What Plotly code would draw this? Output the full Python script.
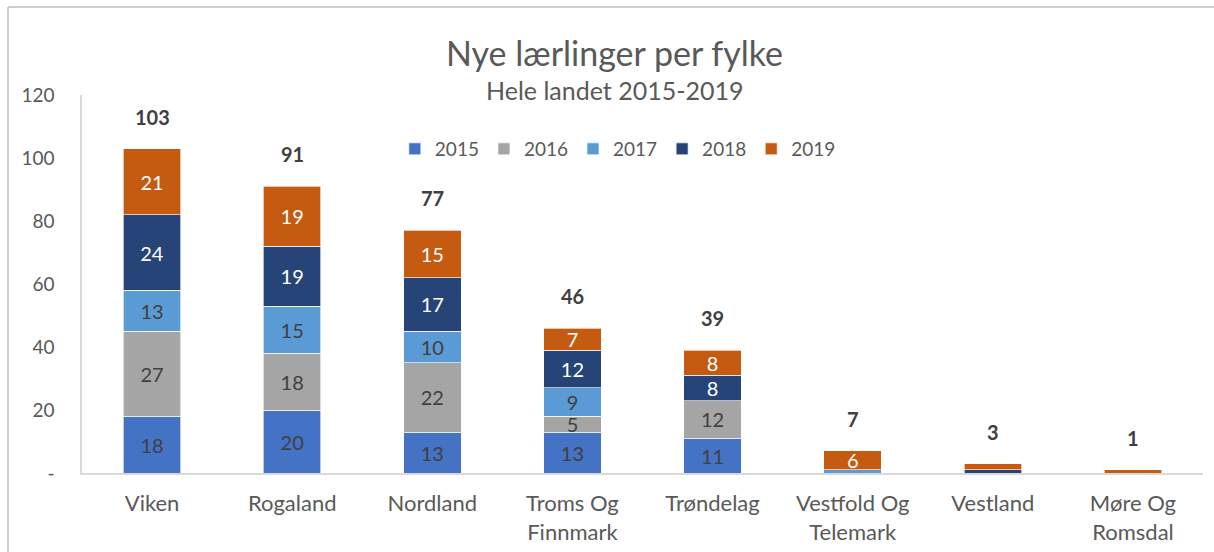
import plotly.graph_objects as go

categories = ["Viken", "Rogaland", "Nordland", "Troms Og<br>Finnmark", "Trøndelag",
              "Vestfold Og<br>Telemark", "Vestland", "Møre Og<br>Romsdal"]
years = ["2015", "2016", "2017", "2018", "2019"]
v2015 = [18, 20, 13, 13, 11, 0, 0, 0]
v2016 = [27, 18, 22, 5, 12, 0, 0, 0]
v2017 = [13, 15, 10, 9, 0, 1, 0, 0]
v2018 = [24, 19, 17, 12, 8, 0, 1, 0]
v2019 = [21, 19, 15, 7, 8, 6, 2, 1]
y_ticks = [0, 20, 40, 60, 80, 100, 120]
y_ticktext = ["-", "20", "40", "60", "80", "100", "120"]

series = [v2015, v2016, v2017, v2018, v2019]
colors = ["#4472C4", "#A5A5A5", "#5B9BD5", "#264478", "#C55A11"]
text_colors = ["#404040", "#404040", "#404040", "#FFFFFF", "#FFFFFF"]
totals = [sum(v) for v in zip(*series)]

FONT = "Lato, 'Open Sans', sans-serif"
fig = go.Figure()
for name, vals, col, tcol in zip(years, series, colors, text_colors):
    fig.add_trace(go.Bar(
        name=name, x=categories, y=vals,
        marker=dict(color=col, line=dict(color="rgba(255,255,255,0.8)", width=0.8)),
        text=[str(v) if v >= 5 else "" for v in vals],
        textposition="inside", insidetextanchor="middle", textangle=0,
        constraintext="none",
        insidetextfont=dict(color=tcol, size=20, family=FONT),
        hoverinfo="skip",
    ))

for c, t in zip(categories, totals):
    fig.add_annotation(x=c, y=t, text=f"<b>{t}</b>", showarrow=False,
                       yshift=32, font=dict(size=20, color="#404040", family=FONT))

# title and subtitle
fig.add_annotation(xref="paper", yref="paper", x=0.4746, y=(473 - 52) / 378,
                   text="Nye lærlinger per fylke", showarrow=False, yanchor="middle",
                   font=dict(size=34, color="#595959", family=FONT))
fig.add_annotation(xref="paper", yref="paper", x=0.4746, y=(473 - 90) / 378,
                   text="Hele landet 2015-2019", showarrow=False, yanchor="middle",
                   font=dict(size=25, color="#595959", family=FONT))

# chart frame
fx = (8 - 82) / 1121
fy = (473 - 7) / 378
fig.add_shape(type="line", xref="paper", yref="paper", x0=fx, x1=fx, y0=-0.5, y1=fy,
              line=dict(color="#BFBFBF", width=1.5))
fig.add_shape(type="line", xref="paper", yref="paper", x0=fx, x1=1.2, y0=fy, y1=fy,
              line=dict(color="#BFBFBF", width=1.5))

fig.update_layout(
    barmode="stack", bargap=0.59,
    width=1214, height=552,
    margin=dict(l=82, r=11, t=95, b=79),
    paper_bgcolor="white", plot_bgcolor="white",
    font=dict(family=FONT, color="#595959", size=18),
    showlegend=True,
    legend=dict(orientation="h", traceorder="normal", x=0.478, xanchor="center",
                y=(473 - 149) / 378, yanchor="middle",
                font=dict(size=19, color="#595959"),
                bgcolor="rgba(0,0,0,0)", itemwidth=30, tracegroupgap=0),
    xaxis=dict(showline=True, linecolor="#D9D9D9", linewidth=1.5, ticks="",
               ticklabelstandoff=10, automargin=False,
               tickfont=dict(size=22, color="#595959"), showgrid=False),
    yaxis=dict(range=[0, 120], tickvals=y_ticks, ticktext=y_ticktext, showgrid=False,
               showline=True, linecolor="#D9D9D9", linewidth=1.5, ticks="",
               ticklabelstandoff=22, automargin=False,
               tickfont=dict(size=19, color="#595959"),
               zeroline=False),
)

fig.write_html("out.html", config={"displayModeBar": False},
               post_script="document.body.style.margin='0';")
